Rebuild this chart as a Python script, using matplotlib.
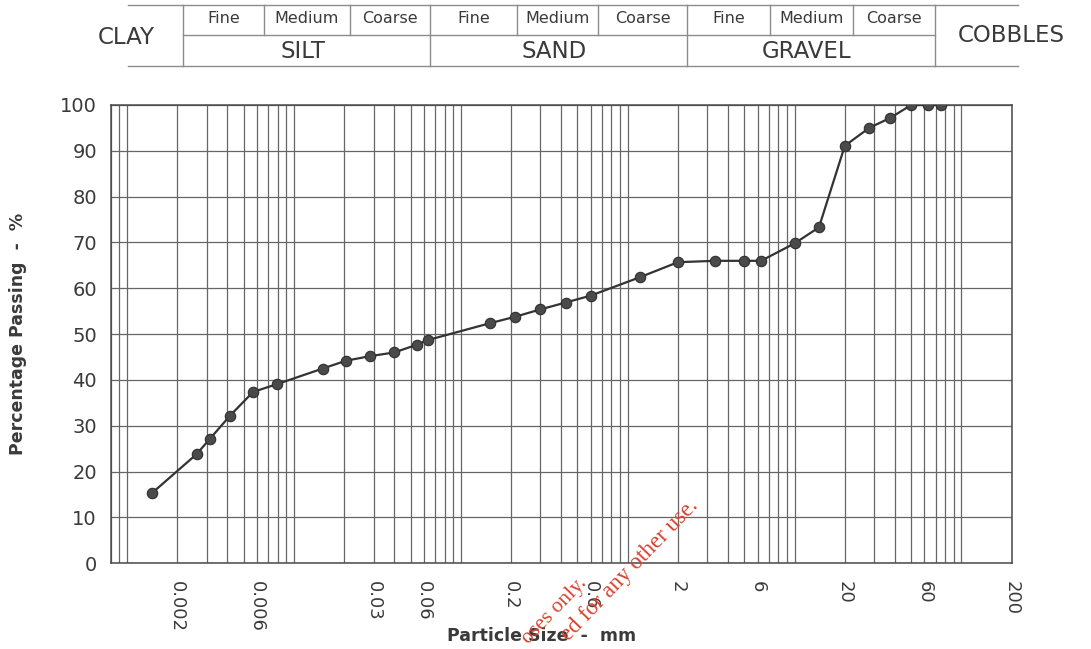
import matplotlib
matplotlib.use("Agg")
import matplotlib.pyplot as plt
from matplotlib.ticker import LogLocator, FixedLocator, NullFormatter
import numpy as np

# particle size distribution
size_mm = [0.00141, 0.00261, 0.00313, 0.00414, 0.0057, 0.00794, 0.0149, 0.0205,
           0.0286, 0.0399, 0.0547, 0.0633, 0.15, 0.212, 0.3, 0.425, 0.6, 1.18,
           2.0, 3.35, 5.0, 6.3, 10.0, 14.0, 20.0, 28.0, 37.5, 50.0, 63.0, 75.0]
passing = [15.3, 23.8, 27.1, 32.2, 37.4, 39.1, 42.5, 44.2,
           45.2, 46.0, 47.7, 48.7, 52.4, 53.8, 55.4, 56.9, 58.4, 62.4,
           65.7, 66.0, 66.0, 66.0, 69.8, 73.3, 91.1, 95.0, 97.2, 100, 100, 100]

xtick_vals = [0.002, 0.006, 0.03, 0.06, 0.2, 0.6, 2, 6, 20, 60, 200]
xtick_labels = ['0.002', '0.006', '0.03', '0.06', '0.2', '0.6', '2', '6', '20', '60', '200']
yticks = list(range(0, 101, 10))

main_classes = ['SILT', 'SAND', 'GRAVEL']
sub_classes = ['Fine', 'Medium', 'Coarse']

W, H = 1091, 649
fig = plt.figure(figsize=(W / 100, H / 100), dpi=100)
fig.patch.set_facecolor('white')

txt = '#3a3a3a'
grid_c = '#666666'
font = 'DejaVu Sans'

ax = fig.add_axes([110.8 / W, 1 - 563.3 / H, 900.9 / W, 458.3 / H])
ax.set_xscale('log')
ax.set_xlim(0.0008, 200)
ax.set_ylim(0, 100)

ax.plot(size_mm, passing, color='#333333', lw=1.6, marker='o', ms=7.5,
        mfc='#4a4a4a', mec='#2e2e2e', mew=0.8, zorder=3)

ax.xaxis.set_major_locator(FixedLocator(xtick_vals))
ax.set_xticklabels(xtick_labels, rotation=270, fontsize=13, color=txt, family=font)
ax.xaxis.set_minor_locator(LogLocator(base=10, subs=np.arange(1, 10), numticks=60))
ax.xaxis.set_minor_formatter(NullFormatter())
ax.set_yticks(yticks)
ax.set_yticklabels([str(v) for v in yticks], fontsize=14, color=txt, family=font)
ax.tick_params(which='both', length=0)
ax.tick_params(axis='x', pad=13)
ax.tick_params(axis='y', pad=10)

ax.grid(which='both', axis='x', color=grid_c, lw=0.9)
ax.grid(which='major', axis='y', color=grid_c, lw=0.9)
for s in ax.spines.values():
    s.set_color('#4a4a4a')
    s.set_linewidth(1.1)

ax.set_xlabel('Particle Size  -  mm', fontsize=12.5, fontweight='bold', color=txt,
              family=font)
ax.xaxis.set_label_coords(0.4786, -0.139)
ax.set_ylabel('Percentage Passing  -  %', fontsize=12.5, fontweight='bold', color=txt,
              family=font, labelpad=24)

# header table with soil classes, drawn in pixel coordinates
hdr = fig.add_axes([0, 0, 1, 1])
hdr.set_xlim(0, W)
hdr.set_ylim(H, 0)
hdr.axis('off')
line_c = '#8c8c8c'
y_top, y_mid, y_bot = 5, 34.5, 65.5
edges = [183, 264, 350, 430, 517, 598, 687, 770, 853, 935]
hdr.plot([128, 1018], [y_top, y_top], color=line_c, lw=1.0)
hdr.plot([128, 1018], [y_bot, y_bot], color=line_c, lw=1.0)
hdr.plot([183, 935], [y_mid, y_mid], color=line_c, lw=1.0)
for i, e in enumerate(edges):
    y1 = y_bot if i % 3 == 0 else y_mid
    hdr.plot([e, e], [y_top, y1], color=line_c, lw=1.0)

hdr.text(126, 37, 'CLAY', ha='center', va='center', fontsize=16.5, color=txt, family=font)
hdr.text(1011, 35, 'COBBLES', ha='center', va='center', fontsize=16.5, color=txt, family=font)
for k, name in enumerate(main_classes):
    x0, x1 = edges[3 * k], edges[3 * k + 3]
    hdr.text((x0 + x1) / 2 - 4, 51, name, ha='center', va='center', fontsize=16.5,
             color=txt, family=font)
    for j, sub in enumerate(sub_classes):
        a, b = edges[3 * k + j], edges[3 * k + j + 1]
        hdr.text((a + b) / 2, 18.5, sub, ha='center', va='center', fontsize=11.5,
                 color=txt, family=font)

# red watermark fragments across the bottom
wm = '#d8432f'
hdr.text(587, 584, 'oses only.', rotation=46, rotation_mode='anchor', ha='right',
         va='baseline', fontsize=15.5, color=wm, family='Liberation Serif')
hdr.text(699, 506, 'ed for any other use.', rotation=46, rotation_mode='anchor',
         ha='right', va='baseline', fontsize=16.5, color=wm, family='Liberation Serif')

fig.savefig('out.png', dpi=100)
